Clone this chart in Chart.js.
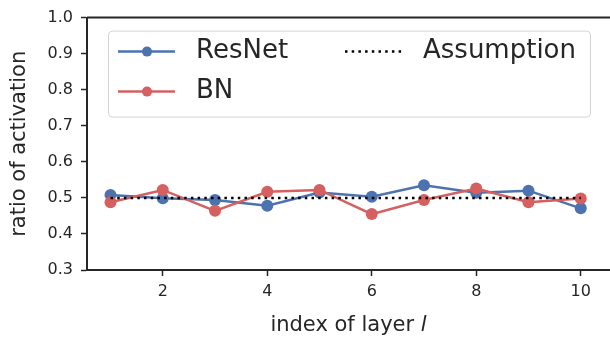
<!DOCTYPE html>
<html>
<head>
<meta charset="utf-8">
<script src="https://cdn.jsdelivr.net/npm/chart.js@4.4.1/dist/chart.umd.min.js"></script>
<style>
  html, body { margin: 0; padding: 0; background: #fff; }
  #c { display: block; }
</style>
</head>
<body>
<canvas id="c" width="610" height="339"></canvas>
<script>
// índices das camadas e valores
const layers = [1, 2, 3, 4, 5, 6, 7, 8, 9, 10];
const resnet = [0.508, 0.499, 0.494, 0.478, 0.515, 0.503, 0.535, 0.514, 0.520, 0.471];
const bn = [0.488, 0.522, 0.464, 0.517, 0.522, 0.455, 0.494, 0.526, 0.488, 0.498];
const assumption = [0.5, 0.5, 0.5, 0.5, 0.5, 0.5, 0.5, 0.5, 0.5, 0.5];

const xTicks = [2, 4, 6, 8, 10];
const yTicks = [0.3, 0.4, 0.5, 0.6, 0.7, 0.8, 0.9, 1.0];

const INK = '#262626';
const FONT = '"DejaVu Sans", sans-serif';

function pontos(valores) {
    return layers.map((l, i) => ({ x: l, y: valores[i] }));
}

// eixo superior, título do eixo x (com "l" em itálico) e legenda em duas colunas
const legendaPlugin = {
    id: 'legenda',
    afterDraw(chart) {
        const ctx = chart.ctx;
        const area = chart.chartArea;
        ctx.save();

        ctx.strokeStyle = INK;
        ctx.lineWidth = 2;
        ctx.beginPath();
        ctx.moveTo(area.left, area.top);
        ctx.lineTo(area.right, area.top);
        ctx.stroke();

        // título do eixo x
        const normal = '21px ' + FONT, italico = 'italic 21px ' + FONT;
        ctx.fillStyle = INK;
        ctx.textBaseline = 'alphabetic';
        ctx.font = normal;
        const w1 = ctx.measureText('index of layer ').width;
        ctx.font = italico;
        const w2 = ctx.measureText('l').width;
        let tx = (area.left + area.right) / 2 - (w1 + w2) / 2;
        ctx.font = normal;
        ctx.fillText('index of layer ', tx, 331);
        ctx.font = italico;
        ctx.fillText('l', tx + w1, 331);

        const bx = area.left + 21, by = area.top + 13, bw = 482, bh = 86;
        ctx.fillStyle = 'rgba(255,255,255,0.8)';
        ctx.strokeStyle = '#d4d4d4';
        ctx.lineWidth = 1;
        ctx.beginPath();
        ctx.roundRect(bx + 0.5, by + 0.5, bw, bh, 4);
        ctx.fill();
        ctx.stroke();

        const itens = [
            { ds: chart.data.datasets[0], hx: bx + 10, ty: by + 21 },
            { ds: chart.data.datasets[1], hx: bx + 10, ty: by + 61 },
            { ds: chart.data.datasets[2], hx: bx + 237, ty: by + 21 }
        ];
        ctx.font = '26px ' + FONT;
        ctx.textBaseline = 'middle';
        for (const it of itens) {
            const ds = it.ds;
            ctx.strokeStyle = ds.borderColor;
            ctx.lineWidth = ds.borderWidth;
            ctx.setLineDash(ds.borderDash || []);
            ctx.beginPath();
            ctx.moveTo(it.hx, it.ty);
            ctx.lineTo(it.hx + 57, it.ty);
            ctx.stroke();
            ctx.setLineDash([]);
            if (ds.pointRadius > 0) {
                ctx.fillStyle = ds.borderColor;
                ctx.beginPath();
                ctx.arc(it.hx + 29, it.ty, 5, 0, Math.PI * 2);
                ctx.fill();
            }
            ctx.fillStyle = INK;
            ctx.fillText(ds.label, it.hx + 78, it.ty);
        }
        ctx.restore();
    }
};

const eixoComum = {
    grid: { display: true, drawOnChartArea: false, drawTicks: true, tickLength: 6, tickWidth: 1.5, tickColor: INK },
    border: { display: true, color: INK, width: 2 }
};

new Chart(document.getElementById('c'), {
    type: 'line',
    data: {
        datasets: [
            {
                label: 'ResNet',
                data: pontos(resnet),
                borderColor: '#4c72b0',
                backgroundColor: '#4c72b0',
                borderWidth: 2.5,
                pointRadius: 6,
                pointBorderWidth: 0,
                tension: 0,
                order: 3
            },
            {
                label: 'BN',
                data: pontos(bn),
                borderColor: '#d65f5f',
                backgroundColor: '#d65f5f',
                borderWidth: 2.5,
                pointRadius: 6,
                pointBorderWidth: 0,
                tension: 0,
                order: 2
            },
            {
                label: 'Assumption',
                data: pontos(assumption),
                borderColor: '#000000',
                borderWidth: 2.5,
                borderDash: [2.5, 4.2],
                borderCapStyle: 'butt',
                pointRadius: 0,
                tension: 0,
                order: 1
            }
        ]
    },
    options: {
        responsive: false,
        animation: false,
        devicePixelRatio: 1,
        layout: { autoPadding: false, padding: { top: 14, right: 0, left: 0, bottom: 0 } },
        plugins: {
            legend: { display: false },
            tooltip: { enabled: false }
        },
        scales: {
            x: {
                ...eixoComum,
                type: 'linear',
                min: 0.55,
                max: 10.56,
                afterBuildTicks: s => { s.ticks = xTicks.map(v => ({ value: v })); },
                afterFit: s => { s.height = 69; },
                ticks: { color: INK, font: { family: FONT, size: 16 }, padding: 6, maxRotation: 0 },
                title: { display: false }
            },
            y: {
                ...eixoComum,
                min: 0.3,
                max: 1.0,
                afterBuildTicks: s => { s.ticks = yTicks.map(v => ({ value: v })); },
                afterFit: s => { s.width = 87; },
                ticks: { color: INK, font: { family: FONT, size: 16 }, padding: 8, callback: v => v.toFixed(1) },
                title: { display: true, text: 'ratio of activation', color: INK, font: { family: FONT, size: 21 }, padding: { top: 7, bottom: 0 } }
            }
        }
    },
    plugins: [legendaPlugin]
});
</script>
</body>
</html>
